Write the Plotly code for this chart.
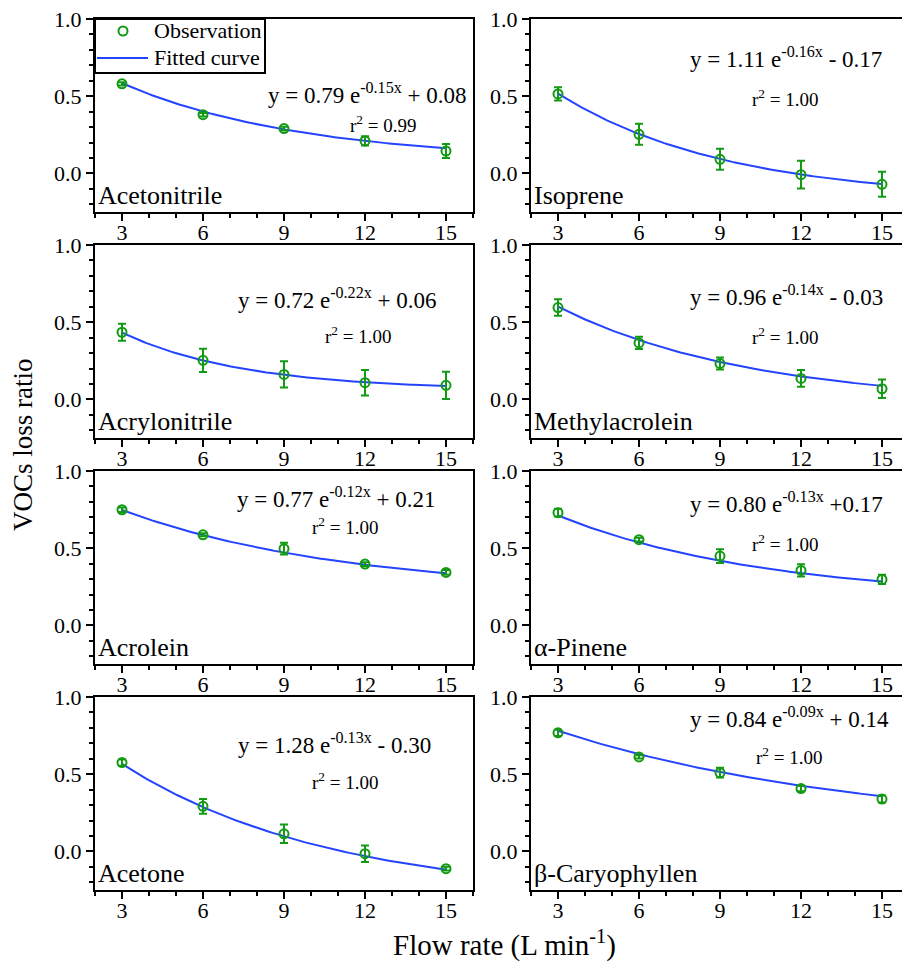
import numpy as np
import plotly.graph_objects as go

# ---------------- data ----------------
flow = [3, 6, 9, 12, 15]
compounds = ["Acetonitrile", "Isoprene", "Acrylonitrile", "Methylacrolein",
             "Acrolein", "α-Pinene", "Acetone", "β-Caryophyllen"]

obs_acetonitrile = [0.58, 0.38, 0.29, 0.21, 0.145]
err_acetonitrile = [0.01, 0.012, 0.012, 0.03, 0.045]
obs_isoprene = [0.515, 0.253, 0.091, -0.008, -0.071]
err_isoprene = [0.043, 0.068, 0.068, 0.09, 0.081]
obs_acrylonitrile = [0.435, 0.253, 0.162, 0.108, 0.091]
err_acrylonitrile = [0.055, 0.075, 0.085, 0.083, 0.088]
obs_methylacrolein = [0.595, 0.366, 0.232, 0.136, 0.069]
err_methylacrolein = [0.054, 0.039, 0.039, 0.054, 0.06]
obs_acrolein = [0.749, 0.587, 0.497, 0.397, 0.343]
err_acrolein = [0.015, 0.01, 0.038, 0.012, 0.015]
obs_apinene = [0.73, 0.555, 0.449, 0.356, 0.298]
err_apinene = [0.025, 0.012, 0.045, 0.04, 0.03]
obs_acetone = [0.575, 0.292, 0.114, -0.015, -0.112]
err_acetone = [0.021, 0.048, 0.06, 0.054, 0.012]
obs_bcary = [0.768, 0.612, 0.51, 0.407, 0.339]
err_bcary = [0.02, 0.01, 0.032, 0.018, 0.023]

observations = [obs_acetonitrile, obs_isoprene, obs_acrylonitrile, obs_methylacrolein,
                obs_acrolein, obs_apinene, obs_acetone, obs_bcary]
errors = [err_acetonitrile, err_isoprene, err_acrylonitrile, err_methylacrolein,
          err_acrolein, err_apinene, err_acetone, err_bcary]

# fitted parameters y = a * exp(-b x) + c
fit_a = [0.79, 1.11, 0.72, 0.96, 0.77, 0.80, 1.28, 0.84]
fit_b = [0.15, 0.16, 0.22, 0.14, 0.12, 0.13, 0.13, 0.09]
fit_c = [0.08, -0.17, 0.06, -0.03, 0.21, 0.17, -0.30, 0.14]

eq_labels = ["y = 0.79 e<sup>-0.15x</sup> + 0.08",
             "y = 1.11 e<sup>-0.16x</sup> - 0.17",
             "y = 0.72 e<sup>-0.22x</sup> + 0.06",
             "y = 0.96 e<sup>-0.14x</sup> - 0.03",
             "y = 0.77 e<sup>-0.12x</sup> + 0.21",
             "y = 0.80 e<sup>-0.13x</sup> +0.17",
             "y = 1.28 e<sup>-0.13x</sup> - 0.30",
             "y = 0.84 e<sup>-0.09x</sup> + 0.14"]
r2_labels = ["r<sup>2</sup> = 0.99"] + ["r<sup>2</sup> = 1.00"] * 7
legend_labels = ["Observation", "Fitted curve"]

y_tickvals = [0.0, 0.5, 1.0]
x_tickvals = [3, 6, 9, 12, 15]

# ---------------- layout geometry (pixels) ----------------
W, H = 902, 963
FONT = "Liberation Serif"
GREEN = "#139a13"
BLUE = "#2443ff"

col_px = [(95, 473), (531, 902)]
row_top = [19, 245, 471, 697]
row_h = 193
eq_pos = [(367, 93), (786, 58), (337, 298), (786, 295),
          (336, 498), (786, 502), (334, 743), (789, 717)]
r2_pos = [(383, 124), (785, 98), (358, 335), (785, 336),
          (345, 526), (785, 543), (345, 781), (789, 756)]


def px(x):
    return x / W


def py(y):
    return 1 - y / H


fig = go.Figure()
annotations = []
shapes = []

for i, name in enumerate(compounds):
    r, c = divmod(i, 2)
    idx = "" if i == 0 else str(i + 1)
    xa, ya = "x" + idx, "y" + idx
    x0, x1 = col_px[c]
    top = row_top[r]
    bot = top + row_h
    xdom = [px(x0), px(x1)]
    ydom = [py(bot), py(top)]
    xrange = [2, 16] if c == 0 else [2, 2 + (x1 - x0) / 27.0]

    xx = np.linspace(3, 15, 120)
    yy = fit_a[i] * np.exp(-fit_b[i] * xx) + fit_c[i]
    fig.add_trace(go.Scatter(x=xx, y=yy, mode="lines", xaxis=xa, yaxis=ya,
                             line=dict(color=BLUE, width=2),
                             name=legend_labels[1], showlegend=False))
    fig.add_trace(go.Scatter(x=flow, y=observations[i], mode="markers",
                             xaxis=xa, yaxis=ya,
                             marker=dict(symbol="circle-open", size=9,
                                         color=GREEN, line=dict(width=2, color=GREEN)),
                             error_y=dict(type="data", array=errors[i], visible=True,
                                          color=GREEN, thickness=2, width=4),
                             name=legend_labels[0], showlegend=False))

    axis_common = dict(showline=True, linecolor="black", linewidth=2,
                       ticks="outside", tickcolor="black", tickwidth=1.5,
                       ticklen=7, showgrid=False, zeroline=False, automargin=False,
                       tickfont=dict(family=FONT, size=22, color="black"))
    fig.layout["xaxis" + idx] = dict(
        domain=xdom, range=xrange, anchor=ya, tickvals=x_tickvals,
        mirror=True, ticklabelstandoff=-7,
        minor=dict(dtick=1, tick0=2, ticks="outside", ticklen=4,
                   tickcolor="black", tickwidth=1.5, showgrid=False),
        **axis_common)
    fig.layout["yaxis" + idx] = dict(
        domain=ydom, range=[-0.25, 1.0], anchor=xa, tickvals=y_tickvals,
        tickformat=".1f", mirror=(c == 0),
        minor=dict(dtick=0.1, tick0=0, ticks="outside", ticklen=4,
                   tickcolor="black", tickwidth=1.5, showgrid=False),
        **axis_common)

    annotations.append(dict(text=name, xref=xa + " domain", yref=ya + " domain",
                            x=0.003, y=0.0, xanchor="left", yanchor="bottom",
                            showarrow=False,
                            font=dict(family=FONT, size=26, color="black")))
    ex, ey = eq_pos[i]
    annotations.append(dict(text=eq_labels[i], xref="paper", yref="paper",
                            x=px(ex), y=py(ey), xanchor="center", yanchor="middle",
                            showarrow=False,
                            font=dict(family=FONT, size=23, color="black")))
    rx, ry = r2_pos[i]
    annotations.append(dict(text=r2_labels[i], xref="paper", yref="paper",
                            x=px(rx), y=py(ry), xanchor="center", yanchor="middle",
                            showarrow=False,
                            font=dict(family=FONT, size=19, color="black")))

annotations.append(dict(text="VOCs loss ratio", xref="paper", yref="paper",
                        x=px(23), y=py(445), xanchor="center", yanchor="middle",
                        textangle=-90, showarrow=False,
                        font=dict(family=FONT, size=27, color="black")))
annotations.append(dict(text="Flow rate (L min<sup>-1</sup>)", xref="paper", yref="paper",
                        x=px(505), y=py(943), xanchor="center", yanchor="middle",
                        showarrow=False,
                        font=dict(family=FONT, size=29, color="black")))

# legend box (drawn manually to keep it compact like the reference)
shapes.append(dict(type="rect", xref="paper", yref="paper",
                   x0=px(95), x1=px(265), y0=py(73), y1=py(19),
                   line=dict(color="black", width=2), fillcolor="white", layer="above"))
shapes.append(dict(type="line", xref="paper", yref="paper",
                   x0=px(97), x1=px(148), y0=py(58), y1=py(58),
                   line=dict(color=BLUE, width=2), layer="above"))
shapes.append(dict(type="circle", xref="paper", yref="paper",
                   x0=px(118.5), x1=px(127.5), y0=py(35.5), y1=py(26.5),
                   line=dict(color=GREEN, width=2), layer="above"))
for lab, ly in zip(legend_labels, [31, 58]):
    annotations.append(dict(text=lab, xref="paper", yref="paper",
                            x=px(152), y=py(ly), xanchor="left", yanchor="middle",
                            showarrow=False,
                            font=dict(family=FONT, size=22, color="black")))

fig.update_layout(
    width=W, height=H, margin=dict(l=0, r=0, t=0, b=0),
    paper_bgcolor="white", plot_bgcolor="white",
    annotations=annotations, shapes=shapes, showlegend=False,
)

fig.write_html("out.html", config={"displayModeBar": False},
               post_script="document.body.style.margin='0';document.body.style.padding='0';")
